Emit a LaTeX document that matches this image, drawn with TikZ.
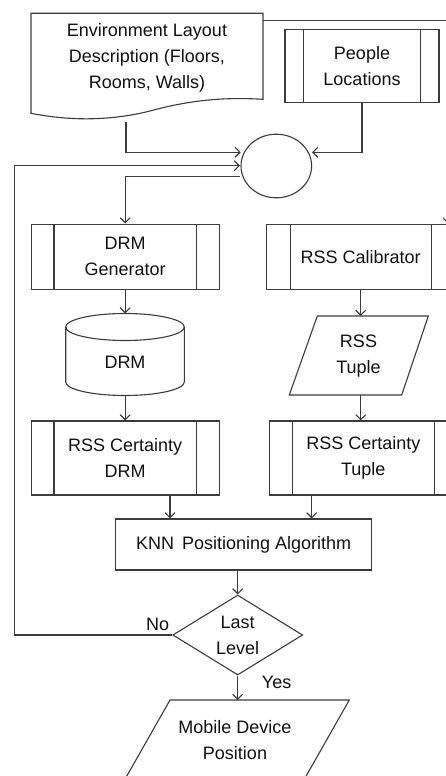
\documentclass[tikz,border=0pt]{standalone}
\usepackage{fontspec}
\setmainfont{Liberation Sans}
\usetikzlibrary{arrows.meta,shapes.geometric}
\definecolor{ln}{HTML}{3C3C3C}
\definecolor{tx}{HTML}{111111}
\newcommand{\predeflines}[2]{%
  \draw[shapeline] ([xshift=#2]#1.north west) -- ([xshift=#2]#1.south west);
  \draw[shapeline] ([xshift=-#2]#1.north east) -- ([xshift=-#2]#1.south east);}
\begin{document}
\begin{tikzpicture}[x=1pt,y=-1pt,
  every node/.style={font=\fontsize{18}{26}\selectfont, text=tx, align=center, inner sep=0pt},
  shapeline/.style={draw=ln, line width=1.1pt},
  predef/.style={shapeline, rectangle},
  plainbox/.style={shapeline, rectangle},
  arr/.style={draw=ln, line width=1.1pt, -{Straight Barb[length=5pt,width=10pt]}},
  lbl/.style={font=\fontsize{18}{22}\selectfont}
]
\path[use as bounding box] (0,0) rectangle (446,776);
\clip (0,0) rectangle (446,776);
\fill[white] (0,0) rectangle (446,776);

% document shape
\draw[shapeline] (31,13.3) -- (263,13.3) -- (263,99.3)
   .. controls (225,97) and (190,100) .. (150,111)
   .. controls (110,121) and (70,121) .. (31,113.3) -- cycle;
\node (doc) at (147,58) {Environment Layout\\Description (Floors,\\Rooms, Walls)};
\coordinate (docout) at (126,121.7);

\node[predef, minimum width=154pt, minimum height=72.7pt] (people) at (362,65.7) {People\\Locations};
\predeflines{people}{19pt}

\node[shapeline, ellipse, minimum width=70.6pt, minimum height=63.6pt] (circ) at (276.3,166) {};
\coordinate (cin1) at (240.7,152.3);
\coordinate (cin2) at (312,152.3);
\coordinate (cin3) at (240,165.7);
\coordinate (cout) at (240,176.7);

\node[predef, minimum width=188.3pt, minimum height=65.3pt] (drmgen) at (125.2,256.7) {DRM\\Generator};
\predeflines{drmgen}{23.5pt}
\node[predef, minimum width=188pt, minimum height=65.3pt] (calib) at (360.7,256.7) {RSS Calibrator};
\predeflines{calib}{24pt}

% cylinder
\draw[shapeline, fill=white] (65.7,327) -- (65.7,382)
   arc[start angle=180, end angle=0, x radius=59.3, y radius=13.5] -- (184.3,327);
\draw[shapeline] (125,327) ellipse [x radius=59.3, y radius=13.5];
\node (drm) at (125,362) {DRM};
\coordinate (cyltop) at (125.2,313.5);
\coordinate (cylbot) at (125.2,395.5);

% RSS tuple parallelogram
\draw[shapeline] (289.3,395) -- (317.3,316) -- (428.3,316) -- (401.7,395) -- cycle;
\node (tuple) at (358.5,356) {RSS\\Tuple};
\coordinate (tuptop) at (360.7,316);
\coordinate (tupbot) at (360.7,395);

\node[predef, minimum width=188.3pt, minimum height=74pt] (certdrm) at (125.2,458) {RSS Certainty\\DRM};
\predeflines{certdrm}{23.5pt}
\node[predef, minimum width=188pt, minimum height=74pt] (certtup) at (363.3,458) {RSS Certainty\\Tuple};
\predeflines{certtup}{23.5pt}

\node[plainbox, minimum width=256pt, minimum height=51pt] (knn) at (243.7,544.5) {KNN\hspace{3pt} Positioning Algorithm};

\node[shapeline, diamond, aspect=1.625, minimum width=130pt, minimum height=80pt] (dec) at (237.7,635) {Last\\Level};
\node[lbl, anchor=base east] (nolbl) at (169.3,630) {No};
\node[lbl, anchor=base west] (yeslbl) at (261.7,688.3) {Yes};

% mobile device position
\draw[shapeline] (170,700) -- (349.3,700) -- (303.3,781) -- (124,781) -- cycle;
\node (mobile) at (235,740.5) {Mobile Device\\Position};
\coordinate (mobtop) at (237.7,700);

% connectors
\draw[arr] (docout) |- (cin1);
\draw[arr] (people.south) |- (cin2);
\draw[arr] (dec.west) -- (14.3,635) -- (14.3,165.7) -- (cin3);
\draw[arr] (263,20.7) -- (448,20.7) -- (448,223.6);
\draw[arr] (cout) -| (drmgen.north);
\draw[arr] (drmgen.south) -- (cyltop);
\draw[arr] (cylbot) -- (certdrm.north);
\draw[arr] (calib.south) -- (tuptop);
\draw[arr] (tupbot) -- (tupbot |- certtup.north);
\draw[arr] (certdrm.south -| 170,0) -- (knn.north -| 170,0);
\draw[arr] (certtup.south -| 311.7,0) -- (knn.north -| 311.7,0);
\draw[arr] (knn.south -| dec.north) -- (dec.north);
\draw[arr] (dec.south) -- (mobtop);
\end{tikzpicture}
\end{document}
